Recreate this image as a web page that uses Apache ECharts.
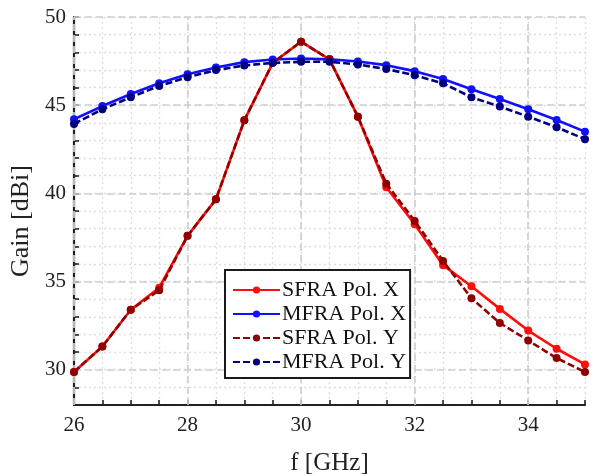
<!DOCTYPE html>
<html>
<head>
<meta charset="utf-8">
<script src="https://cdn.jsdelivr.net/npm/echarts@6/dist/echarts.min.js"></script>
<style>
html,body{margin:0;padding:0;background:#fff;}
#chart{width:594px;height:475px;}
</style>
</head>
<body>
<div id="chart"></div>
<script>
const freq = [26, 26.5, 27, 27.5, 28, 28.5, 29, 29.5, 30, 30.5, 31, 31.5, 32, 32.5, 33, 33.5, 34, 34.5, 35];
const sfraX = [29.87, 31.32, 33.40, 34.65, 37.59, 39.66, 44.14, 47.40, 48.60, 47.60, 44.35, 40.35, 38.25, 35.93, 34.73, 33.45, 32.22, 31.19, 30.30];
const mfraX = [44.20, 44.95, 45.63, 46.24, 46.76, 47.14, 47.44, 47.59, 47.65, 47.60, 47.48, 47.27, 46.93, 46.48, 45.90, 45.35, 44.77, 44.16, 43.50];
const sfraY = [29.87, 31.32, 33.40, 34.50, 37.59, 39.66, 44.14, 47.40, 48.60, 47.60, 44.35, 40.55, 38.44, 36.17, 34.05, 32.65, 31.66, 30.66, 29.87];
const mfraY = [43.94, 44.77, 45.45, 46.09, 46.58, 46.99, 47.25, 47.40, 47.46, 47.46, 47.31, 47.05, 46.70, 46.24, 45.45, 44.92, 44.35, 43.75, 43.07];
const seriesNames = ['SFRA Pol. X', 'MFRA Pol. X', 'SFRA Pol. Y', 'MFRA Pol. Y'];
const xMajorTicks = [26, 28, 30, 32, 34];
const yMajorTicks = [30, 35, 40, 45, 50];

const FONT = '"Liberation Serif", "Times New Roman", serif';
const AX = '#222222';

function pairs(vals) { return freq.map((f, i) => [f, vals[i]]); }

const colors = ['#ff0d0d', '#1010ff', '#8f0000', '#00007f'];
const types = ['solid', 'solid', 'dashed', 'dashed'];
const values = [sfraX, mfraX, sfraY, mfraY];

const majorLines = xMajorTicks.map(v => ({ xAxis: v })).concat(yMajorTicks.map(v => ({ yAxis: v })));

const series = values.map((vals, i) => ({
  name: seriesNames[i],
  type: 'line',
  data: pairs(vals),
  symbol: 'circle',
  symbolSize: 8,
  showAllSymbol: true,
  z: 3 + i,
  color: colors[i],
  lineStyle: { color: colors[i], width: 2.6, type: types[i] === 'dashed' ? [7, 3] : 'solid' },
  itemStyle: { color: colors[i] },
  emphasis: { disabled: true },
  animation: false
}));
series[0].markLine = {
  z: 1,
  silent: true,
  symbol: ['none', 'none'],
  label: { show: false },
  lineStyle: { color: '#d0d0d0', width: 1.7, type: [7, 4] },
  emphasis: { disabled: true },
  animation: false,
  data: majorLines
};

const chart = echarts.init(document.getElementById('chart'), null, { renderer: 'canvas' });
chart.setOption({
  animation: false,
  backgroundColor: '#ffffff',
  grid: { left: 74, right: 9, top: 17, bottom: 70, containLabel: false, outerBoundsMode: 'none' },
  legend: {
    orient: 'vertical',
    left: 225,
    top: 270,
    data: seriesNames,
    itemWidth: 47,
    itemHeight: 9,
    itemGap: 2,
    padding: [9, 4, 5, 7],
    backgroundColor: '#ffffff',
    borderColor: '#1a1a1a',
    borderWidth: 2,
    borderRadius: 0,
    textStyle: { fontFamily: FONT, fontSize: 22, color: '#111', padding: [0, 0, 0, -3] },
    selectedMode: false
  },
  xAxis: {
    type: 'value',
    min: 26, max: 35, interval: 0.5,
    name: 'f [GHz]',
    nameLocation: 'middle',
    nameGap: 46,
    nameTextStyle: { fontFamily: FONT, fontSize: 25, color: '#222' },
    axisLine: { show: true, onZero: false, lineStyle: { color: AX, width: 2.2 } },
    axisTick: { show: true, inside: true, length: 5, lineStyle: { color: AX, width: 1.6 } },
    axisLabel: {
      fontFamily: FONT, fontSize: 21, color: '#222', margin: 10,
      formatter: v => (Math.abs(v % 2) < 1e-9 ? String(v) : '')
    },
    splitLine: { show: true, lineStyle: { color: '#dedede', width: 1.3, type: [2, 3] } }
  },
  yAxis: {
    type: 'value',
    min: 28, max: 50, interval: 1,
    name: 'Gain [dBi]',
    nameLocation: 'middle',
    nameGap: 28,
    nameTextStyle: { fontFamily: FONT, fontSize: 26, color: '#222', padding: [0, 20, 0, 0] },
    axisLine: { show: true, onZero: false, lineStyle: { color: AX, width: 2.2 } },
    axisTick: { show: true, inside: true, length: 5, lineStyle: { color: AX, width: 1.6 } },
    axisLabel: {
      fontFamily: FONT, fontSize: 21, color: '#222', margin: 8,
      formatter: v => (v % 5 === 0 ? String(v) : '')
    },
    splitLine: { show: true, lineStyle: { color: '#dedede', width: 1.3, type: [2, 3] } }
  },
  series: series
});
</script>
</body>
</html>
